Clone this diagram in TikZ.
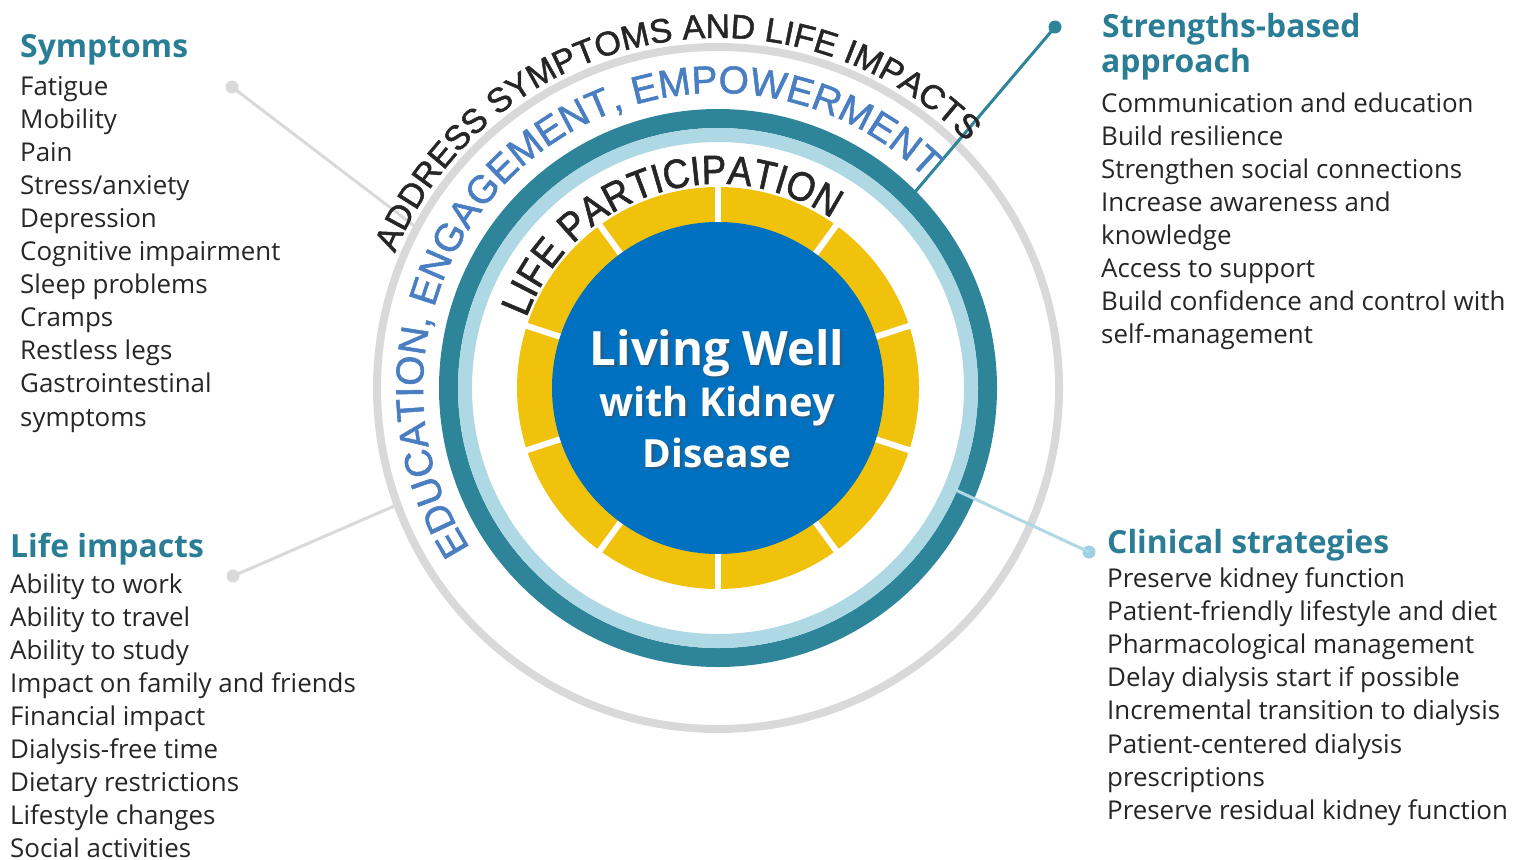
\documentclass[tikz,border=0pt]{standalone}
\usepackage{fontspec}
\setmainfont{Open Sans}
\newfontfamily\arcfont[FakeBold=1.5]{Liberation Sans}
\newfontfamily\partfont[FakeStretch=0.9,FakeBold=1.5]{Liberation Sans}
\usetikzlibrary{calc,decorations.text}
\definecolor{kteal}{HTML}{2E8499}
\definecolor{klight}{HTML}{ADD8E4}
\definecolor{kdot}{HTML}{9DD0E0}
\definecolor{kyellow}{HTML}{F0C20C}
\definecolor{kblue}{HTML}{0070C0}
\definecolor{kgray}{HTML}{D9D9D9}
\definecolor{khead}{HTML}{2B7D96}
\definecolor{kword}{HTML}{4A7EC2}
\definecolor{ktext}{HTML}{262626}
\tikzset{
  head/.style={anchor=base west, inner sep=0pt, font=\bfseries\fontsize{32}{35}\selectfont, text=khead},
  item/.style={anchor=base west, inner sep=0pt, font=\fontsize{26}{33}\selectfont, text=ktext},
  core/.style={anchor=base, inner sep=0pt, text=white},
  dot/.style={circle, inner sep=0pt, minimum size=13bp},
  pin/.style={line width=3bp},
}

\begin{document}
\begin{tikzpicture}[x=1bp,y=1bp]
	%%%%% START %%%%%
	\useasboundingbox (0,0) rectangle (1514,-859);
	\coordinate (c) at (718,-388);
	
	% rings
	\draw[kgray, line width=8bp] (c) circle (341);
	\draw[kteal, line width=19bp] (c) circle (269.5);
	\draw[klight, line width=14bp] (c) circle (253);
	\fill[kyellow] (c) circle (201);
	\foreach \a in {90,126,...,414}
		\draw[white, line width=6bp] (c) -- ($(c)+(\a:206)$);
	\fill[kblue] (c) circle (166);
	
	% centre text
	\foreach \t/\y/\s [count=\i] in {Living Well/365/47.5, with Kidney/416/40, Disease/467/39} {
		\node[core, font=\bfseries\fontsize{\s}{\s}\selectfont, text=black!70, opacity=.45] at (719.5,-\y-2) {\t};
		\node[core, font=\bfseries\fontsize{\s}{\s}\selectfont] (core\i) at (717,-\y) {\t};
	}
	
	% pins
	\node[dot, fill=kgray] (symDot) at (232,-87) {};
	\coordinate (symEnd) at ($(c)+(152:341)$);
	\draw[pin, kgray] (symDot.center) -- (symEnd);
	
	\node[dot, fill=kgray] (lifeDot) at (233,-576) {};
	\coordinate (lifeEnd) at ($(c)+(200:341)$);
	\draw[pin, kgray] (lifeDot.center) -- (lifeEnd);
	
	\node[dot, fill=kteal] (strDot) at (1055,-27) {};
	\coordinate (strEnd) at ($(c)+(44.7:269)$);
	\draw[pin, kteal] (strDot.center) -- (strEnd);
	
	\node[dot, fill=kdot] (clinDot) at (1089,-552) {};
	\coordinate (clinEnd) at ($(c)+(-23.2:253)$);
	\draw[pin, klight] (clinDot.center) -- (clinEnd);
	
	% curved words
	\path[decorate, decoration={text along path, text align=center, text color=ktext,
		text={|\arcfont\fontsize{34}{34}\selectfont|ADDRESS SYMPTOMS AND LIFE IMPACTS}}]
		($(c)+(191:350)$) arc (191:11:350);
	\path[decorate, decoration={text along path, text align=center, text color=kword,
		text={|\arcfont\fontsize{39}{39}\selectfont|EDUCATION, ENGAGEMENT, EMPOWERMENT}}]
		($(c)+(219:295)$) arc (219:39:295);
	\path[decorate, decoration={text along path, text align=center, text color=ktext,
		text={|\partfont\fontsize{41}{41}\selectfont|LIFE PARTICIPATION}}]
		($(c)+(198:204)$) arc (198:18:204);
	
	% symptoms
	\node[head] (symHead) at (20,-57) {Symptoms};
	\foreach \t [count=\i from 0] in {Fatigue, Mobility, Pain, Stress/anxiety, Depression,
		Cognitive impairment, Sleep problems, Cramps, Restless legs, Gastrointestinal, symptoms}
		\node[item] (sym\i) at (20,-95-33.1*\i) {\t};
	
	% life impacts
	\node[head] (lifeHead) at (10,-557) {Life impacts};
	\foreach \t [count=\i from 0] in {Ability to work, Ability to travel, Ability to study,
		Impact on family and friends, Financial impact, Dialysis-free time,
		Dietary restrictions, Lifestyle changes, Social activities}
		\node[item] (life\i) at (10,-593-33.1*\i) {\t};
	
	% strengths-based approach
	\node[head] (strHead) at (1102,-37) {Strengths-based};
	\node[head] (strHeadB) at (1101,-72) {approach};
	\foreach \t [count=\i from 0] in {Communication and education, Build resilience,
		Strengthen social connections, Increase awareness and, knowledge, Access to support,
		Build confidence and control with, self-management}
		\node[item] (str\i) at (1101,-112-33.1*\i) {\t};
	
	% clinical strategies
	\node[head] (clinHead) at (1107,-553) {Clinical strategies};
	\foreach \t [count=\i from 0] in {Preserve kidney function, Patient-friendly lifestyle and diet,
		Pharmacological management, Delay dialysis start if possible,
		Incremental transition to dialysis, Patient-centered dialysis, prescriptions,
		Preserve residual kidney function}
		\node[item] (clin\i) at (1107,-587.5-33.1*\i) {\t};
	%%%%% END %%%%%
\end{tikzpicture}
\end{document}
